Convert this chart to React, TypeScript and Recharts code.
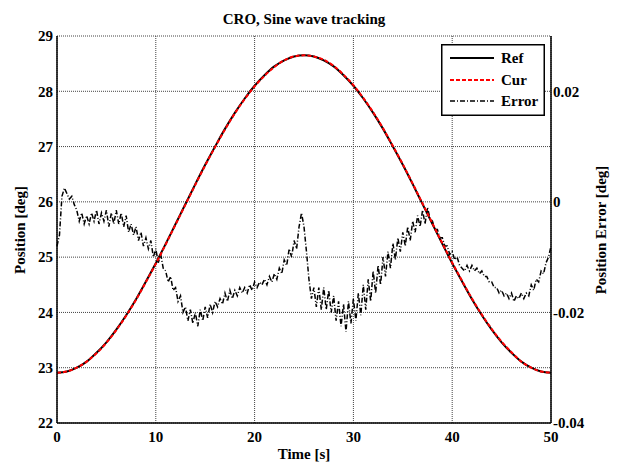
import { LineChart, Line, XAxis, YAxis, CartesianGrid } from "recharts";

const xTicks = [0, 10, 20, 30, 40, 50];
const posTicks = [22, 23, 24, 25, 26, 27, 28, 29];
const errTicks = [-0.04, -0.02, 0, 0.02];

// reference position, one sample per second (0..50 s)
const refPos = [
  22.91, 22.93, 23.0, 23.11, 23.27, 23.46, 23.69, 23.95, 24.24, 24.56,
  24.89, 25.24, 25.6, 25.96, 26.32, 26.67, 27.0, 27.32, 27.61, 27.87,
  28.1, 28.29, 28.45, 28.56, 28.63, 28.65, 28.63, 28.56, 28.45, 28.29,
  28.1, 27.87, 27.61, 27.32, 27.0, 26.67, 26.32, 25.96, 25.6, 25.24,
  24.89, 24.56, 24.24, 23.95, 23.69, 23.46, 23.27, 23.11, 23.0, 22.93,
  22.91,
];

// measured position, one sample per second
const curPos = [
  22.91, 22.93, 23.0, 23.11, 23.26, 23.45, 23.68, 23.94, 24.23, 24.55,
  24.88, 25.23, 25.59, 25.95, 26.31, 26.66, 26.99, 27.31, 27.6, 27.86,
  28.09, 28.28, 28.44, 28.56, 28.63, 28.65, 28.63, 28.57, 28.46, 28.3,
  28.11, 27.88, 27.62, 27.33, 27.01, 26.68, 26.33, 25.97, 25.61, 25.25,
  24.9, 24.57, 24.25, 23.96, 23.7, 23.47, 23.28, 23.11, 23.0, 22.93,
  22.91,
];

// position error [deg], one sample every 0.25 s
const posErr = [
  -0.008, -0.006, 0.001, 0.0025,
  0.0015, 0.0005, 0.001, -0.0005,
  -0.0015, -0.0035, -0.002, -0.004,
  -0.0025, -0.004, -0.002, -0.0035,
  -0.0015, -0.004, -0.002, -0.0035,
  -0.0015, -0.0045, -0.002, -0.004,
  -0.0015, -0.004, -0.002, -0.0045,
  -0.0025, -0.0055, -0.004, -0.006,
  -0.0045, -0.007, -0.0055, -0.008,
  -0.0065, -0.0085, -0.007, -0.01,
  -0.0085, -0.011, -0.0095, -0.012,
  -0.0125, -0.0145, -0.0135, -0.016,
  -0.0155, -0.018, -0.017, -0.02,
  -0.019, -0.0215, -0.0195, -0.022,
  -0.02, -0.0225, -0.0195, -0.0215,
  -0.019, -0.021, -0.0185, -0.02,
  -0.018, -0.019, -0.0175, -0.0185,
  -0.0165, -0.018, -0.016, -0.0175,
  -0.016, -0.017, -0.0155, -0.0165,
  -0.0155, -0.0165, -0.015, -0.016,
  -0.0145, -0.0155, -0.0145, -0.015,
  -0.014, -0.015, -0.0135, -0.0145,
  -0.013, -0.014, -0.012, -0.013,
  -0.0105, -0.0115, -0.0085, -0.01,
  -0.007, -0.0085, -0.0045, -0.002,
  -0.0045, -0.009, -0.014, -0.0175,
  -0.0155, -0.019, -0.0155, -0.0195,
  -0.0155, -0.0195, -0.016, -0.02,
  -0.017, -0.0215, -0.018, -0.0225,
  -0.0185, -0.0235, -0.018, -0.022,
  -0.0175, -0.0215, -0.0165, -0.0205,
  -0.015, -0.0195, -0.014, -0.018,
  -0.0125, -0.0165, -0.0115, -0.015,
  -0.01, -0.0135, -0.009, -0.012,
  -0.0075, -0.0105, -0.0065, -0.009,
  -0.0055, -0.008, -0.0045, -0.007,
  -0.0035, -0.0055, -0.0025, -0.0045,
  -0.0015, -0.004, -0.001, -0.003,
  -0.0035, -0.005, -0.005, -0.0065,
  -0.0065, -0.008, -0.008, -0.0095,
  -0.009, -0.0105, -0.01, -0.0115,
  -0.012, -0.0125, -0.0115, -0.0125,
  -0.0115, -0.0125, -0.012, -0.013,
  -0.0125, -0.0135, -0.0135, -0.0145,
  -0.0145, -0.0155, -0.0155, -0.0165,
  -0.016, -0.017, -0.0165, -0.0175,
  -0.0165, -0.018, -0.017, -0.0175,
  -0.0165, -0.0175, -0.0165, -0.017,
  -0.015, -0.016, -0.014, -0.0145,
  -0.0125, -0.013, -0.011, -0.01,
  -0.008,
];

const refData = refPos.map((v, i) => ({ t: i, ref: v }));
const curData = curPos.map((v, i) => ({ t: i, cur: v }));
const errData = posErr.map((v, i) => ({ t: i * 0.25, err: v }));

const FONT = "'Liberation Serif', 'Times New Roman', serif";
const tickStyle = { fill: "#000", fontSize: 15, fontWeight: "bold", fontFamily: FONT };

function LegendBox() {
  const rows = [
    { name: "Ref", color: "#000", dash: undefined, y: 14 },
    { name: "Cur", color: "#ff0000", dash: "4 2", y: 36 },
    { name: "Error", color: "#000", dash: "5 2 1 2", y: 57 },
  ];
  return (
    <svg width={104} height={72} style={{ position: "absolute", left: 441, top: 44 }}>
      <rect x={0.75} y={0.75} width={102.5} height={70.5} fill="#fff" stroke="#000" strokeWidth={1.5} />
      {rows.map((r) => (
        <g key={r.name}>
          <line x1={9} x2={53} y1={r.y} y2={r.y} stroke={r.color} strokeWidth={r.name === "Error" ? 1.5 : 2} strokeDasharray={r.dash} />
          <text x={60} y={r.y + 5} fontSize={15} fontWeight="bold" fontFamily={FONT} fill="#000">
            {r.name}
          </text>
        </g>
      ))}
    </svg>
  );
}

export default function App() {
  return (
    <div style={{ position: "absolute", left: 0, top: 0, width: 622, height: 466, background: "#fff", fontFamily: FONT }}>
      <div style={{ position: "absolute", left: 57, width: 494, top: 11, textAlign: "center", fontSize: 15, fontWeight: "bold" }}>
        CRO, Sine wave tracking
      </div>
      <LineChart width={622} height={466} margin={{ top: 36, right: 21, bottom: 13, left: 17 }}>
        <CartesianGrid yAxisId="left" stroke="#444" strokeDasharray="1 1" />
        <XAxis
          dataKey="t"
          type="number"
          domain={[0, 50]}
          ticks={xTicks}
          allowDuplicatedCategory={false}
          height={30}
          tickSize={0}
          tickMargin={8}
          tick={tickStyle}
          axisLine={{ stroke: "#000", strokeWidth: 1.5 }}
        />
        <XAxis
          xAxisId="top"
          orientation="top"
          dataKey="t"
          type="number"
          domain={[0, 50]}
          ticks={xTicks}
          height={0}
          tick={false}
          tickLine={false}
          axisLine={{ stroke: "#000", strokeWidth: 1 }}
        />
        <YAxis
          yAxisId="left"
          domain={[22, 29]}
          ticks={posTicks}
          width={40}
          tickSize={0}
          tickMargin={4}
          tick={tickStyle}
          axisLine={{ stroke: "#000", strokeWidth: 1.5 }}
        />
        <YAxis
          yAxisId="right"
          orientation="right"
          domain={[-0.04, 0.03]}
          ticks={errTicks}
          width={50}
          tickSize={0}
          tickMargin={2}
          tick={tickStyle}
          axisLine={{ stroke: "#000", strokeWidth: 1.5 }}
        />
        <Line
          yAxisId="right"
          data={errData}
          dataKey="err"
          name="Error"
          type="linear"
          stroke="#000"
          strokeWidth={1.5}
          strokeDasharray="5 2 1 2"
          dot={false}
          isAnimationActive={false}
        />
        <Line
          yAxisId="left"
          data={refData}
          dataKey="ref"
          name="Ref"
          type="monotone"
          stroke="#000"
          strokeWidth={2}
          dot={false}
          isAnimationActive={false}
        />
        <Line
          yAxisId="left"
          data={curData}
          dataKey="cur"
          name="Cur"
          type="monotone"
          stroke="#ff0000"
          strokeWidth={2}
          strokeDasharray="4 2"
          dot={false}
          isAnimationActive={false}
        />
      </LineChart>
      <LegendBox />
      <div style={{ position: "absolute", left: 57, width: 494, top: 446, textAlign: "center", fontSize: 15, fontWeight: "bold" }}>
        Time [s]
      </div>
      <div
        style={{
          position: "absolute",
          left: 20,
          top: 230,
          transform: "translate(-50%, -50%) rotate(-90deg)",
          whiteSpace: "nowrap",
          fontSize: 15,
          fontWeight: "bold",
        }}
      >
        Position [deg]
      </div>
      <div
        style={{
          position: "absolute",
          left: 601,
          top: 230,
          transform: "translate(-50%, -50%) rotate(-90deg)",
          whiteSpace: "nowrap",
          fontSize: 15,
          fontWeight: "bold",
        }}
      >
        Position Error [deg]
      </div>
    </div>
  );
}
